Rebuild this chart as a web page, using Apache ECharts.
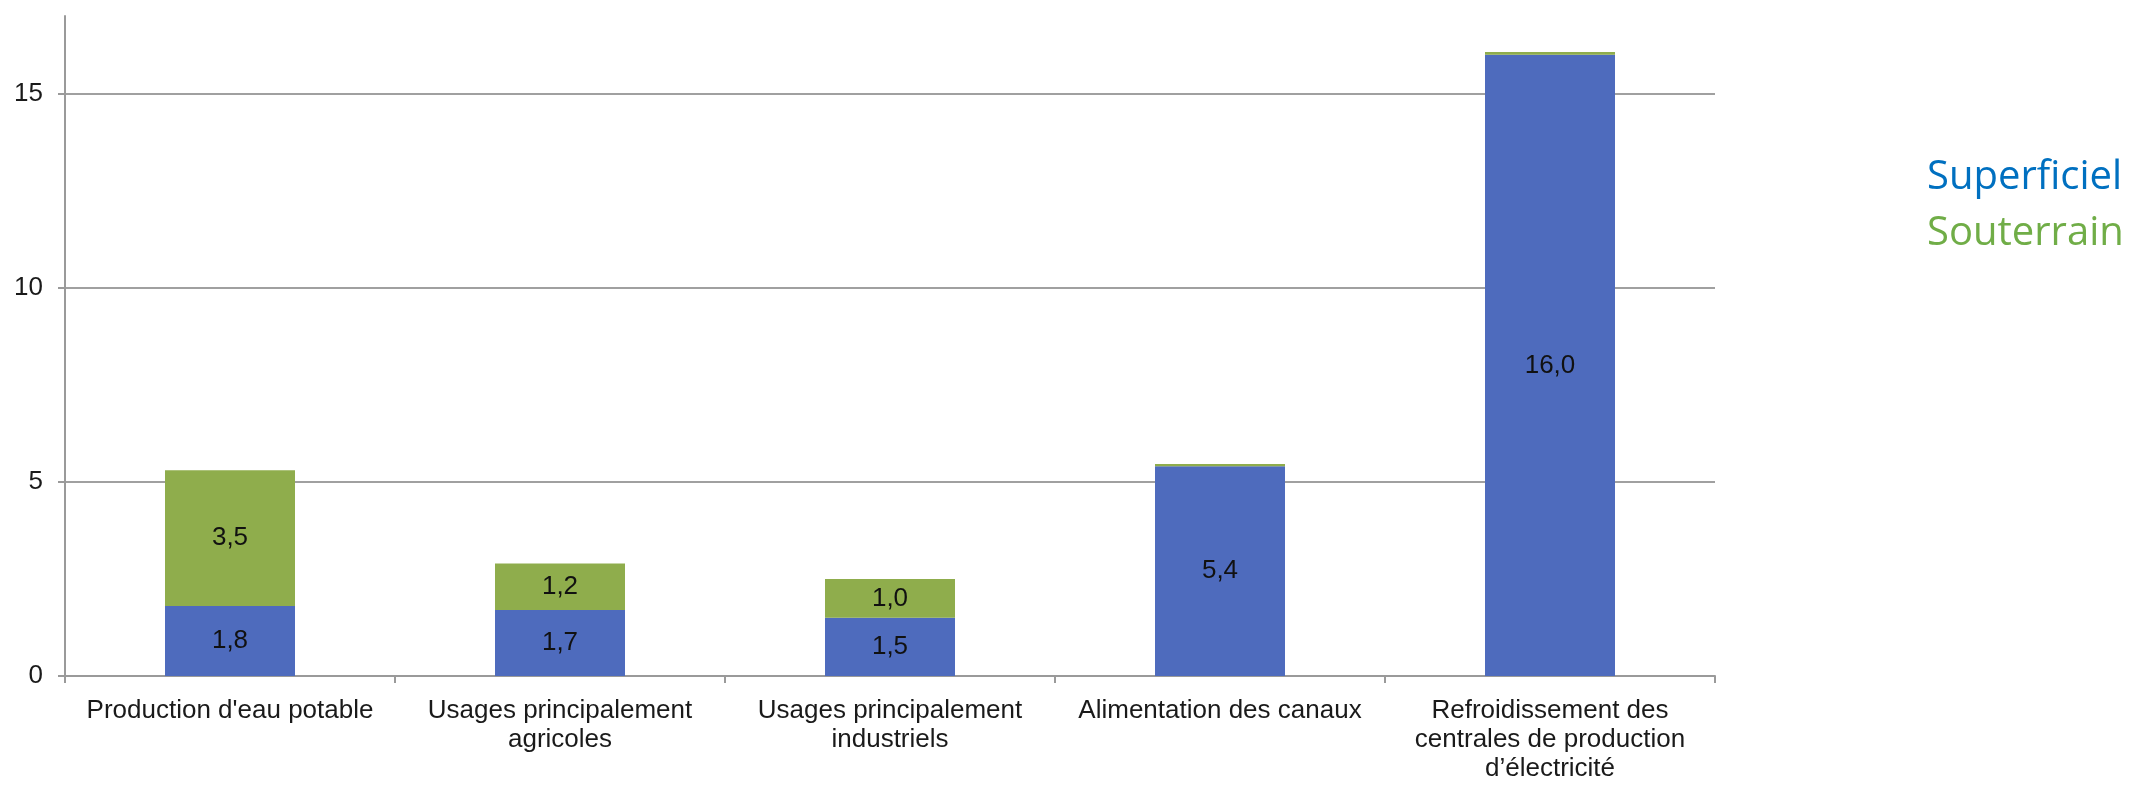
<!DOCTYPE html>
<html>
<head>
<meta charset="utf-8">
<script src="https://cdn.jsdelivr.net/npm/echarts@6/dist/echarts.min.js"></script>
<style>
  html, body { margin: 0; padding: 0; background: #fff; }
  #main { width: 2143px; height: 786px; }
</style>
</head>
<body>
<div id="main"></div>
<script>
var categories = [
  "Production d'eau potable",
  "Usages principalement\nagricoles",
  "Usages principalement\nindustriels",
  "Alimentation des canaux",
  "Refroidissement des\ncentrales de production\nd’électricité"
];
var superficiel = [1.8, 1.7, 1.5, 5.4, 16.0];
var souterrain = [3.5, 1.2, 1.0, 0.06, 0.07];
var seriesNames = ["Superficiel", "Souterrain"];
var yTicks = [0, 5, 10, 15];

var myChart = echarts.init(document.getElementById("main"));

// valeurs avec virgule, les toutes petites parts ne sont pas annotées
function fmt(p) {
  if (p.value < 0.3) return "";
  return p.value.toFixed(1).replace(".", ",");
}

var labelStyle = {
  show: true,
  position: "inside",
  formatter: fmt,
  color: "#111",
  fontFamily: "Liberation Sans, Arial, sans-serif",
  fontSize: 26
};

myChart.setOption({
  animation: false,
  grid: { left: 65, right: 428, top: 16, bottom: 110 },
  legend: {
    orient: "vertical",
    left: 1917,
    top: 150,
    icon: "none",
    itemWidth: 0,
    itemHeight: 14,
    itemGap: 10,
    selectedMode: false,
    textStyle: { fontFamily: "Open Sans, sans-serif", fontSize: 40, lineHeight: 46 },
    data: [
      { name: seriesNames[0], textStyle: { color: "#0070c0" } },
      { name: seriesNames[1], textStyle: { color: "#70ad47" } }
    ]
  },
  xAxis: {
    type: "category",
    data: categories,
    axisLine: { lineStyle: { color: "#9a9a9a", width: 2 } },
    axisTick: { show: true, length: 7, lineStyle: { color: "#9a9a9a", width: 2 } },
    axisLabel: {
      interval: 0,
      margin: 20,
      color: "#1a1a1a",
      fontFamily: "Liberation Sans, Arial, sans-serif",
      fontSize: 26,
      lineHeight: 29
    }
  },
  yAxis: {
    type: "value",
    min: 0,
    max: 17,
    interval: 5,
    axisLine: { show: true, lineStyle: { color: "#9a9a9a", width: 2 } },
    axisTick: { show: true, length: 7, lineStyle: { color: "#9a9a9a", width: 2 } },
    axisLabel: {
      margin: 22,
      color: "#1a1a1a",
      fontFamily: "Liberation Sans, Arial, sans-serif",
      fontSize: 26,
      showMaxLabel: false,
      formatter: function (v) { return yTicks.indexOf(v) >= 0 ? String(v) : ""; }
    },
    splitLine: { show: true, showMaxLine: false, lineStyle: { color: "#a0a0a0", width: 2 } }
  },
  series: [
    {
      name: seriesNames[0],
      type: "bar",
      stack: "total",
      barWidth: 130,
      data: superficiel,
      itemStyle: { color: "#4e6bbd" },
      label: labelStyle
    },
    {
      name: seriesNames[1],
      type: "bar",
      stack: "total",
      barWidth: 130,
      data: souterrain,
      itemStyle: { color: "#8fad4c" },
      label: labelStyle
    }
  ]
});
</script>
</body>
</html>
